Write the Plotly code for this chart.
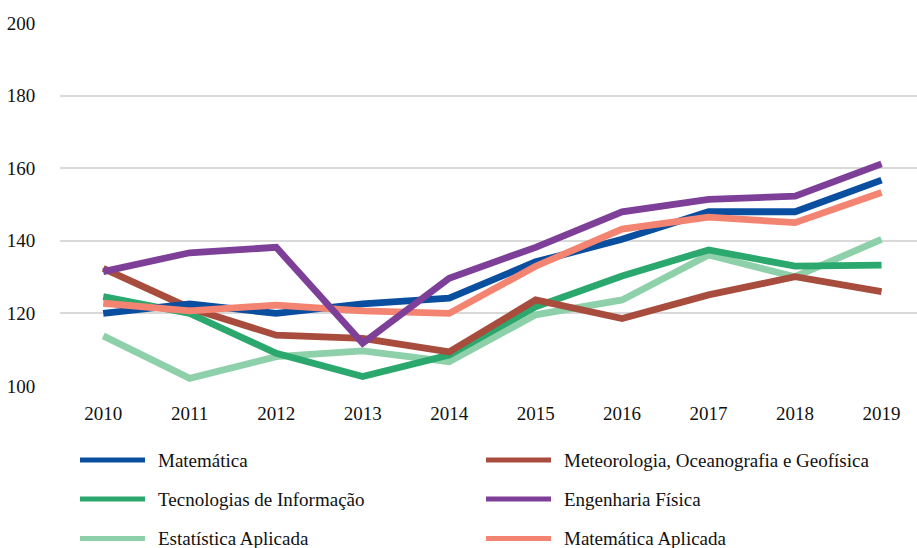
import plotly.graph_objects as go

years = ["2010", "2011", "2012", "2013", "2014", "2015", "2016", "2017", "2018", "2019"]

matematica = [120.0, 122.6, 120.0, 122.6, 124.2, 134.2, 140.4, 148.0, 148.0, 156.7]
meteorologia = [132.4, 121.5, 114.0, 113.1, 109.4, 123.7, 118.6, 125.1, 130.1, 126.0]
tecnologias = [124.6, 120.0, 109.0, 102.6, 108.5, 121.8, 130.3, 137.5, 133.0, 133.3]
eng_fisica = [131.5, 136.7, 138.2, 111.8, 129.7, 138.2, 148.0, 151.4, 152.3, 161.2]
estatistica = [113.8, 102.1, 108.1, 109.7, 106.7, 119.6, 123.7, 136.1, 130.1, 140.4]
mat_aplicada = [122.8, 120.7, 122.3, 120.7, 120.0, 133.0, 143.2, 146.5, 145.0, 153.3]

names = ["Matemática", "Meteorologia, Oceanografia e Geofísica",
         "Tecnologias de Informação", "Engenharia Física",
         "Estatística Aplicada", "Matemática Aplicada"]
values = [matematica, meteorologia, tecnologias, eng_fisica, estatistica, mat_aplicada]
colors = ["#0A4EA0", "#A84D3E", "#2BA86D", "#7E3F98", "#8ED0A9", "#F48472"]

# draw order: back to front roughly as in reference
order = [4, 2, 1, 0, 5, 3]

W, H = 917, 548
L, R, T, B = 60, 0, 23, 162
pw, ph = W - L - R, H - T - B

def px(x):
    return (x - L) / pw

def py(y):
    return (H - B - y) / ph

fig = go.Figure()
for i in order:
    fig.add_trace(go.Scatter(
        x=years, y=values[i], mode="lines", name=names[i],
        line=dict(color=colors[i], width=6.8), showlegend=False,
    ))

font = dict(family="Liberation Serif", size=19, color="#111111")

# manual two-column legend
shapes = []
annotations = []
col_line = [(80, 145), (486, 551)]
col_text = [156, 562]
row_y = [460, 499, 538.5]
for i, name in enumerate(names):
    r, c = divmod(i, 2)
    shapes.append(dict(type="line", xref="paper", yref="paper",
                       x0=px(col_line[c][0]), x1=px(col_line[c][1]),
                       y0=py(row_y[r]), y1=py(row_y[r]),
                       line=dict(color=colors[i], width=5)))
    annotations.append(dict(text=name, xref="paper", yref="paper",
                            x=px(col_text[c]), y=py(row_y[r]),
                            xanchor="left", yanchor="middle", showarrow=False,
                            font=font))

fig.update_layout(
    width=W, height=H,
    margin=dict(l=L, r=R, t=T, b=B, autoexpand=False),
    paper_bgcolor="white", plot_bgcolor="white",
    font=font, showlegend=False,
    shapes=shapes, annotations=annotations,
    xaxis=dict(type="category", range=[-0.5, 9.41], showgrid=False, zeroline=False,
               showline=False, ticks="outside", ticklen=10, tickcolor="rgba(0,0,0,0)",
               tickfont=font),
    yaxis=dict(range=[100, 200], dtick=20, showgrid=True, gridcolor="#D9D9D9",
               gridwidth=1.5, zeroline=False, showline=False, ticks="outside",
               ticklen=20, tickcolor="rgba(0,0,0,0)", tickfont=font),
)

fig.write_html("out.html", config={"displayModeBar": False},
               post_script="document.body.style.margin='0px';document.body.style.overflow='hidden';")
